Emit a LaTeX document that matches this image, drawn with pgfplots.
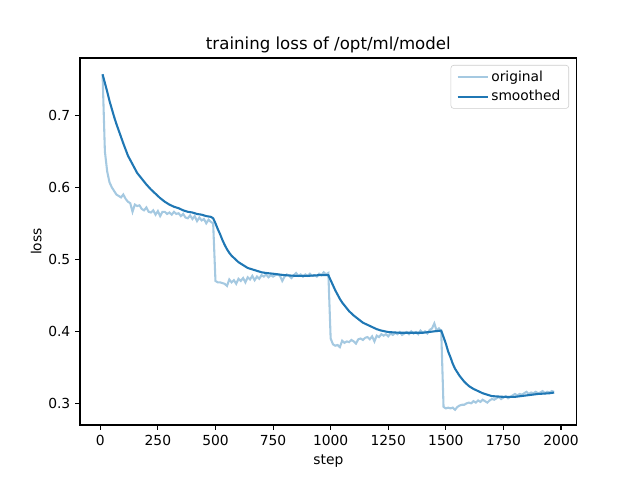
\documentclass[border=0pt]{standalone}
\usepackage{fontspec}
\setmainfont{DejaVu Sans}
\usepackage{pgfplots}
\pgfplotsset{compat=1.18}
\definecolor{tabblue}{HTML}{1F77B4}
\definecolor{lightblue}{RGB}{165,201,225}
\begin{document}
\fontsize{10}{12}\selectfont
\begin{tikzpicture}
\useasboundingbox (-0.8in,-0.55in) rectangle (5.6in,4.25in);
\begin{axis}[
    scale only axis,
    width=4.967in, height=3.67in,
    xmin=-88, xmax=2068,
    ymin=0.2699, ymax=0.7796,
    xtick={0,250,...,2000},
    ytick={0.3,0.4,0.5,0.6,0.7},
    xticklabel style={/pgf/number format/.cd,1000 sep={}},
    yticklabel style={/pgf/number format/.cd,fixed,precision=1,fixed zerofill},
    /pgf/number format/assume math mode=true,
    scaled y ticks=false,
    xtick pos=bottom, ytick pos=left,
    tick align=outside,
    major tick length=3.5pt,
    tick style={black, line width=0.8pt},
    axis line style={line width=0.8pt},
    ticklabel style={font=\fontsize{10}{12}\selectfont},
    xlabel={step}, ylabel={loss},
    label style={font=\fontsize{10}{12}\selectfont},
    xlabel style={yshift=0pt},
    ylabel style={yshift=-2pt},
    title={training loss of /opt/ml/model},
    title style={font=\fontsize{12}{14}\selectfont, yshift=-6pt},
    legend cell align=left,
    legend style={at={(1,1)}, anchor=north east, xshift=-0.077in, yshift=-0.07in,
        draw=black!20, rounded corners=2pt, font=\fontsize{10}{12}\selectfont,
        inner xsep=4pt, inner ysep=2pt, row sep=1pt},
    legend image code/.code={\draw[#1] (0pt,0pt) -- (0.3in,0pt);},
]
\addplot[lightblue, line width=1.5pt] coordinates {
(10,0.757) (20,0.650) (30,0.622) (40,0.607) (50,0.600) (60,0.595) (70,0.590) (80,0.588) (90,0.586) (100,0.590)
(110,0.584) (120,0.580) (130,0.578) (140,0.566) (150,0.576) (160,0.574) (170,0.575) (180,0.570) (190,0.568) (200,0.572)
(210,0.566) (220,0.565) (230,0.568) (240,0.562) (250,0.567) (260,0.560) (270,0.566) (280,0.566) (290,0.563) (300,0.565)
(310,0.562) (320,0.566) (330,0.563) (340,0.564) (350,0.560) (360,0.563) (370,0.558) (380,0.557) (390,0.561) (400,0.556)
(410,0.560) (420,0.553) (430,0.558) (440,0.554) (450,0.556) (460,0.550) (470,0.555) (480,0.552) (490,0.550)
(500,0.470) (510,0.468) (520,0.468) (530,0.467) (540,0.466) (550,0.463) (560,0.472) (570,0.468) (580,0.471) (590,0.466)
(600,0.473) (610,0.470) (620,0.474) (630,0.468) (640,0.475) (650,0.472) (660,0.477) (670,0.471) (680,0.476) (690,0.473)
(700,0.478) (710,0.476) (720,0.479) (730,0.475) (740,0.478) (750,0.476) (760,0.478) (770,0.479) (780,0.477) (790,0.470)
(800,0.476) (810,0.479) (820,0.477) (830,0.474) (840,0.478) (850,0.481) (860,0.477) (870,0.479) (880,0.476) (890,0.479)
(900,0.477) (910,0.480) (920,0.477) (930,0.478) (940,0.476) (950,0.480) (960,0.478) (970,0.482) (980,0.479) (990,0.481)
(1000,0.390) (1010,0.382) (1020,0.380) (1030,0.381) (1040,0.378) (1050,0.387) (1060,0.384) (1070,0.386) (1080,0.385) (1090,0.388)
(1100,0.386) (1110,0.383) (1120,0.389) (1130,0.390) (1140,0.388) (1150,0.391) (1160,0.392) (1170,0.389) (1180,0.393) (1190,0.386)
(1200,0.394) (1210,0.392) (1220,0.396) (1230,0.394) (1240,0.396) (1250,0.393) (1260,0.397) (1270,0.395) (1280,0.398) (1290,0.396)
(1300,0.399) (1310,0.395) (1320,0.397) (1330,0.399) (1340,0.396) (1350,0.400) (1360,0.397) (1370,0.399) (1380,0.396) (1390,0.401)
(1400,0.398) (1410,0.400) (1420,0.397) (1430,0.402) (1440,0.404) (1450,0.411) (1460,0.401) (1470,0.404) (1480,0.400)
(1490,0.295) (1500,0.293) (1510,0.294) (1520,0.293) (1530,0.294) (1540,0.291) (1550,0.295) (1560,0.297) (1570,0.298) (1580,0.298)
(1590,0.300) (1600,0.301) (1610,0.300) (1620,0.303) (1630,0.301) (1640,0.304) (1650,0.302) (1660,0.305) (1670,0.303) (1680,0.301)
(1690,0.304) (1700,0.306) (1710,0.305) (1720,0.307) (1730,0.309) (1740,0.306) (1750,0.308) (1760,0.310) (1770,0.307) (1780,0.309)
(1790,0.311) (1800,0.313) (1810,0.311) (1820,0.313) (1830,0.312) (1840,0.314) (1850,0.316) (1860,0.313) (1870,0.315) (1880,0.314)
(1890,0.316) (1900,0.314) (1910,0.315) (1920,0.317) (1930,0.314) (1940,0.316) (1950,0.315) (1960,0.317) (1970,0.316)
};
\addlegendentry{original}
\addplot[tabblue, line width=1.5pt] coordinates {
(10,0.757) (20,0.745) (30,0.733) (40,0.720) (50,0.709) (60,0.698) (70,0.688) (80,0.679) (100,0.661) (120,0.644)
(140,0.632) (160,0.620) (180,0.612) (200,0.604) (220,0.597) (240,0.591) (260,0.585) (280,0.580) (300,0.576) (320,0.573)
(340,0.571) (360,0.568) (380,0.566) (400,0.565) (420,0.563) (440,0.562) (460,0.560) (480,0.559) (490,0.557)
(500,0.550) (510,0.542) (520,0.535) (530,0.527) (540,0.520) (550,0.514) (560,0.509) (570,0.505) (580,0.502) (590,0.499)
(600,0.496) (620,0.492) (640,0.488) (660,0.486) (680,0.484) (700,0.482) (720,0.481) (750,0.480) (800,0.478) (850,0.477)
(900,0.477) (950,0.478) (990,0.478)
(1000,0.471) (1010,0.464) (1020,0.457) (1030,0.451) (1040,0.445) (1050,0.440) (1060,0.436) (1070,0.432) (1080,0.428) (1090,0.425)
(1100,0.422) (1120,0.417) (1140,0.412) (1160,0.409) (1180,0.406) (1200,0.403) (1220,0.401) (1250,0.399) (1300,0.398) (1350,0.398)
(1400,0.398) (1450,0.400) (1480,0.401)
(1490,0.392) (1500,0.383) (1510,0.372) (1520,0.364) (1530,0.355) (1540,0.348) (1550,0.343) (1560,0.338) (1570,0.334) (1580,0.330)
(1590,0.327) (1600,0.324) (1620,0.320) (1640,0.317) (1660,0.314) (1680,0.312) (1700,0.310) (1750,0.309) (1800,0.309) (1850,0.311)
(1900,0.313) (1950,0.314) (1970,0.315)
};
\addlegendentry{smoothed}
\end{axis}
\end{tikzpicture}
\end{document}
